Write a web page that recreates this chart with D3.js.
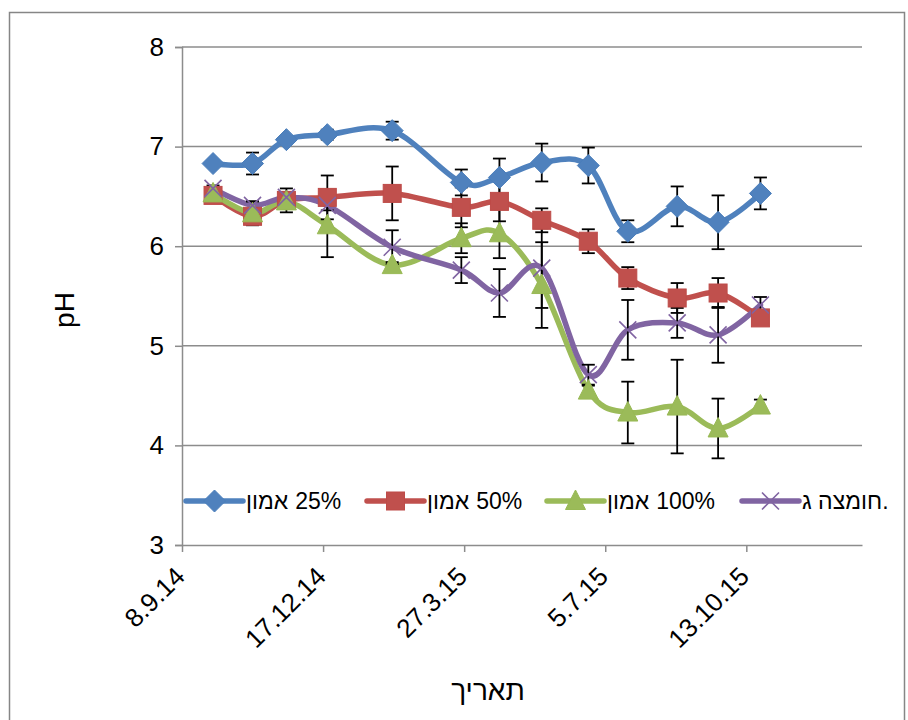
<!DOCTYPE html>
<html>
<head>
<meta charset="utf-8">
<script src="https://cdn.jsdelivr.net/npm/d3@7"></script>
<style>
  html, body { margin: 0; padding: 0; background: #fff; }
  svg { display: block; }
  text { font-family: "Liberation Sans", Arial, sans-serif; fill: #000; }
</style>
</head>
<body>
<svg id="chart" width="908" height="720"></svg>
<script>
// Sampling dates
const dates = ["2014-09-30", "2014-10-28", "2014-11-21", "2014-12-20", "2015-02-04",
               "2015-03-25", "2015-04-21", "2015-05-21", "2015-06-23", "2015-07-21",
               "2015-08-25", "2015-09-23", "2015-10-23"];

// Series names (legend): Hebrew word and optional percentage
const seriesWords = ["אמון", "אמון", "אמון", "חומצה ג."];
const seriesPct = ["25%", "50%", "100%", ""];

// pH means per series
const ph25  = [6.83, 6.83, 7.07, 7.12, 7.16, 6.64, 6.69, 6.84, 6.81, 6.15, 6.40, 6.24, 6.53];
const ph50  = [6.51, 6.30, 6.46, 6.49, 6.53, 6.39, 6.45, 6.26, 6.05, 5.68, 5.48, 5.53, 5.28];
const ph100 = [6.53, 6.33, 6.45, 6.21, 5.81, 6.08, 6.13, 5.61, 4.55, 4.33, 4.39, 4.17, 4.40];
const phAcid = [6.58, 6.41, 6.49, 6.41, 5.99, 5.76, 5.53, 5.78, 4.71, 5.16, 5.23, 5.11, 5.41];

// Standard errors per series
const err25  = [0.02, 0.11, 0.03, 0.05, 0.09, 0.13, 0.19, 0.19, 0.18, 0.11, 0.20, 0.27, 0.16];
const err50  = [0.03, 0.05, 0.12, 0.22, 0.27, 0.20, 0.20, 0.12, 0.12, 0.11, 0.15, 0.15, 0.03];
const err100 = [0.03, 0.12, 0.05, 0.32, 0.03, 0.15, 0.25, 0.43, 0.05, 0.31, 0.47, 0.30, 0.06];
const errAcid = [0.03, 0.04, 0.05, 0.05, 0.17, 0.13, 0.24, 0.40, 0.10, 0.30, 0.15, 0.28, 0.08];

// Axis settings
const xStart = "2014-09-08";
const xEnd = "2016-01-03";
const tickStepDays = 100;
const yTicks = [3, 4, 5, 6, 7, 8];

const parse = d3.utcParse("%Y-%m-%d");
const colors = ["#4F81BD", "#C0504D", "#9BBB59", "#8064A2"];
const markers = ["diamond", "square", "triangle", "x"];
const values = [ph25, ph50, ph100, phAcid];
const errors = [err25, err50, err100, errAcid];

const series = seriesWords.map((word, i) => ({
  word, pct: seriesPct[i], color: colors[i], marker: markers[i],
  points: dates.map((d, j) => ({ date: parse(d), v: values[i][j], e: errors[i][j] }))
}));

const svg = d3.select("#chart");
const plot = { left: 182, right: 862, top: 47, bottom: 545 };

const x = d3.scaleUtc().domain([parse(xStart), parse(xEnd)]).range([plot.left, plot.right]);
const y = d3.scaleLinear().domain([3, 8]).range([plot.bottom, plot.top]);

// Outer chart frame
svg.append("rect").attr("x", 9.5).attr("y", 12.5).attr("width", 895).attr("height", 730)
  .attr("fill", "#fff").attr("stroke", "#868686").attr("stroke-width", 1.5);

// Horizontal gridlines
svg.append("g").selectAll("line").data(yTicks.filter(t => t > 3)).join("line")
  .attr("x1", plot.left).attr("x2", plot.right)
  .attr("y1", d => y(d)).attr("y2", d => y(d))
  .attr("stroke", "#8c8c8c").attr("stroke-width", 1.5);

// Y axis
const yAxis = svg.append("g").attr("transform", `translate(${plot.left},0)`)
  .call(d3.axisLeft(y).tickValues(yTicks).tickFormat(d3.format("d")).tickSize(7).tickPadding(11));
yAxis.select(".domain").attr("stroke", "#8c8c8c").attr("stroke-width", 1.5);
yAxis.selectAll(".tick line").attr("stroke", "#8c8c8c").attr("stroke-width", 1.5);
yAxis.selectAll("text").style("font-size", "26px").style("font-family", "Liberation Sans, Arial, sans-serif").attr("fill", "#000");

// X axis (ticks every 100 days)
const xTickDates = d3.utcDay.range(parse(xStart), d3.utcDay.offset(parse(xEnd), 1), 1)
  .filter(d => Math.round((d - parse(xStart)) / 864e5) % tickStepDays === 0);
const fmt = d => `${d.getUTCDate()}.${d.getUTCMonth() + 1}.${String(d.getUTCFullYear()).slice(2)}`;
const xAxis = svg.append("g").attr("transform", `translate(0,${plot.bottom})`)
  .call(d3.axisBottom(x).tickValues(xTickDates).tickFormat(fmt).tickSize(7).tickSizeOuter(0));
xAxis.select(".domain").attr("stroke", "#8c8c8c").attr("stroke-width", 1.5);
xAxis.selectAll(".tick line").attr("stroke", "#8c8c8c").attr("stroke-width", 1.5);
xAxis.selectAll("text")
  .style("font-size", "26px").style("font-family", "Liberation Sans, Arial, sans-serif").attr("fill", "#000")
  .attr("text-anchor", "end").attr("dy", null).attr("y", 0)
  .attr("transform", "translate(4,33) rotate(-45)");

// Axis titles
svg.append("text").attr("transform", `translate(74,310) rotate(-90)`)
  .attr("text-anchor", "middle").style("font-size", "28px").text("pH");
svg.append("text").attr("x", 488).attr("y", 700)
  .attr("text-anchor", "middle").style("font-size", "28px").text("תאריך");

// Smoothed lines
const line = d3.line().x(d => x(d.date)).y(d => y(d.v)).curve(d3.curveCardinal.tension(0));
svg.append("g").selectAll("path").data(series).join("path")
  .attr("d", d => line(d.points))
  .attr("fill", "none").attr("stroke", d => d.color).attr("stroke-width", 5.5)
  .attr("stroke-linejoin", "round").attr("stroke-linecap", "round");

// Error bars
const eb = svg.append("g").attr("stroke", "#000").attr("stroke-width", 1.8);
series.forEach(s => {
  s.points.forEach(p => {
    const cx = x(p.date), y1 = y(p.v + p.e), y2 = y(p.v - p.e);
    eb.append("line").attr("x1", cx).attr("x2", cx).attr("y1", y1).attr("y2", y2);
    eb.append("line").attr("x1", cx - 6.5).attr("x2", cx + 6.5).attr("y1", y1).attr("y2", y1);
    eb.append("line").attr("x1", cx - 6.5).attr("x2", cx + 6.5).attr("y1", y2).attr("y2", y2);
  });
});

// Marker drawing
function drawMarker(g, type, color, cx, cy) {
  if (type === "diamond") {
    g.append("path").attr("d", `M${cx},${cy - 11}L${cx + 11},${cy}L${cx},${cy + 11}L${cx - 11},${cy}Z`)
      .attr("fill", color).attr("stroke", "#4A7EBB").attr("stroke-width", 1);
  } else if (type === "square") {
    g.append("rect").attr("x", cx - 9).attr("y", cy - 9).attr("width", 18).attr("height", 18)
      .attr("fill", color).attr("stroke", "#BE4B48").attr("stroke-width", 1);
  } else if (type === "triangle") {
    g.append("path").attr("d", `M${cx},${cy - 11}L${cx + 10},${cy + 8.5}L${cx - 10},${cy + 8.5}Z`)
      .attr("fill", color).attr("stroke", "#98B954").attr("stroke-width", 1);
  } else {
    g.append("path").attr("d", `M${cx - 8.5},${cy - 8.5}L${cx + 8.5},${cy + 8.5}M${cx + 8.5},${cy - 8.5}L${cx - 8.5},${cy + 8.5}`)
      .attr("stroke", color).attr("stroke-width", 1.6).attr("fill", "none");
  }
}

const mk = svg.append("g");
series.forEach(s => s.points.forEach(p => drawMarker(mk, s.marker, s.color, x(p.date), y(p.v))));

// Legend: sample line with marker, then Hebrew word followed by the percentage
const legendX = [186, 367, 547, 742];
const legendY = 501;
const lg = svg.append("g");
series.forEach((s, i) => {
  const lx = legendX[i];
  lg.append("line").attr("x1", lx).attr("x2", lx + 57).attr("y1", legendY).attr("y2", legendY)
    .attr("stroke", s.color).attr("stroke-width", 5.5).attr("stroke-linecap", "round");
  drawMarker(lg, s.marker, s.color, lx + 28.5, legendY);
  const w = lg.append("text").attr("x", lx + 60).attr("y", legendY + 8)
    .attr("text-anchor", "start").style("font-size", "23px")
    .text(s.word);
  if (s.pct) {
    const len = w.node().getComputedTextLength();
    lg.append("text").attr("x", lx + 60 + len + 7).attr("y", legendY + 8)
      .attr("text-anchor", "start").style("font-size", "23px").text(s.pct);
  }
});
</script>
</body>
</html>
